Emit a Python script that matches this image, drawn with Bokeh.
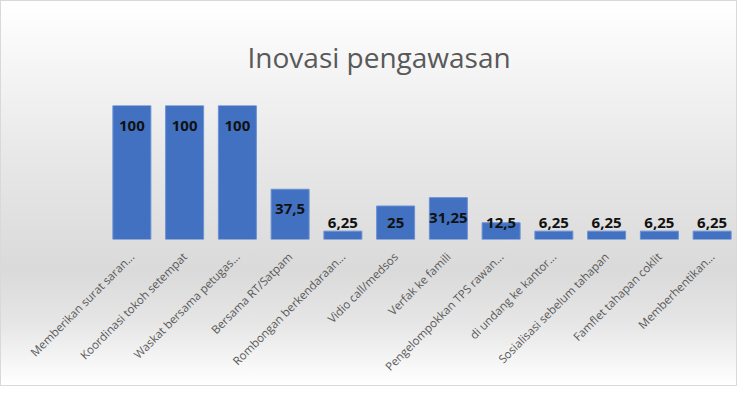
from bokeh.plotting import figure
from bokeh.models import ColumnDataSource, Range1d, FactorRange
from bokeh.core.properties import value
from bokeh.embed import file_html
from bokeh.resources import INLINE
import math

categories = [
    "Memberikan surat saran...",
    "Koordinasi tokoh setempat",
    "Waskat bersama petugas...",
    "Bersama RT/Satpam",
    "Rombongan berkendaraan...",
    "Vidio call/medsos",
    "Verfak ke famili",
    "Pengelompokkan TPS rawan...",
    "di undang ke kantor...",
    "Sosialisasi sebelum tahapan",
    "Famflet tahapan coklit",
    "Memberhentikan...",
]
values = [100, 100, 100, 37.5, 6.25, 25, 31.25, 12.5, 6.25, 6.25, 6.25, 6.25]
value_labels = ["100", "100", "100", "37,5", "6,25", "25", "31,25", "12,5", "6,25", "6,25", "6,25", "6,25"]

label_y = [max(v - 15, 12) for v in values]

src = ColumnDataSource(dict(cat=categories, val=values, lab=value_labels, ly=label_y))

p = figure(
    width=737, height=386,
    x_range=FactorRange(*categories, range_padding=0),
    y_range=Range1d(0, 100),
    output_backend="svg", toolbar_location=None,
    min_border_left=104, min_border_right=0, min_border_top=104, min_border_bottom=148,
    title="Inovasi pengawasan",
)
p.x_range.range_padding = 0
p.x_range.factor_padding = 0

p.title.text_font = "Open Sans"
p.title.text_font_size = "28px"
p.title.text_font_style = "normal"
p.title.text_color = "#595959"
p.title.align = "left"
p.title.offset = 142
p.title.vertical_align = "bottom"
p.title.standoff = 60

p.border_fill_alpha = 0
p.background_fill_alpha = 0
p.outline_line_color = None
p.styles = {
    "background": "linear-gradient(to bottom, #ffffff 0%, #f7f7f7 14%, #e8e8e8 40%, #dadada 70%, #e6e6e6 84%, #ffffff 100%)",
    "border": "1px solid #d9d9d9",
}

p.vbar(x="cat", top="val", width=0.72, source=src,
       fill_color="#4271c2", line_color="#6a90d4", line_width=1)

p.text(x="cat", y="ly", text="lab", source=src,
       text_align="center", text_baseline="middle",
       text_font=value("Open Sans"), text_font_style="bold",
       text_font_size="15px", text_color="#111111")

p.yaxis.visible = False
p.grid.visible = False
p.xaxis.axis_line_color = None
p.xaxis.major_tick_line_color = None
p.xaxis.minor_tick_line_color = None
p.xaxis.major_label_orientation = math.pi / 4
p.xaxis.major_label_standoff = 9
p.xaxis.major_label_text_font = "Open Sans"
p.xaxis.major_label_text_font_size = "11.5px"
p.xaxis.major_label_text_color = "#595959"

open("out.html", "w").write(file_html(p, INLINE))
